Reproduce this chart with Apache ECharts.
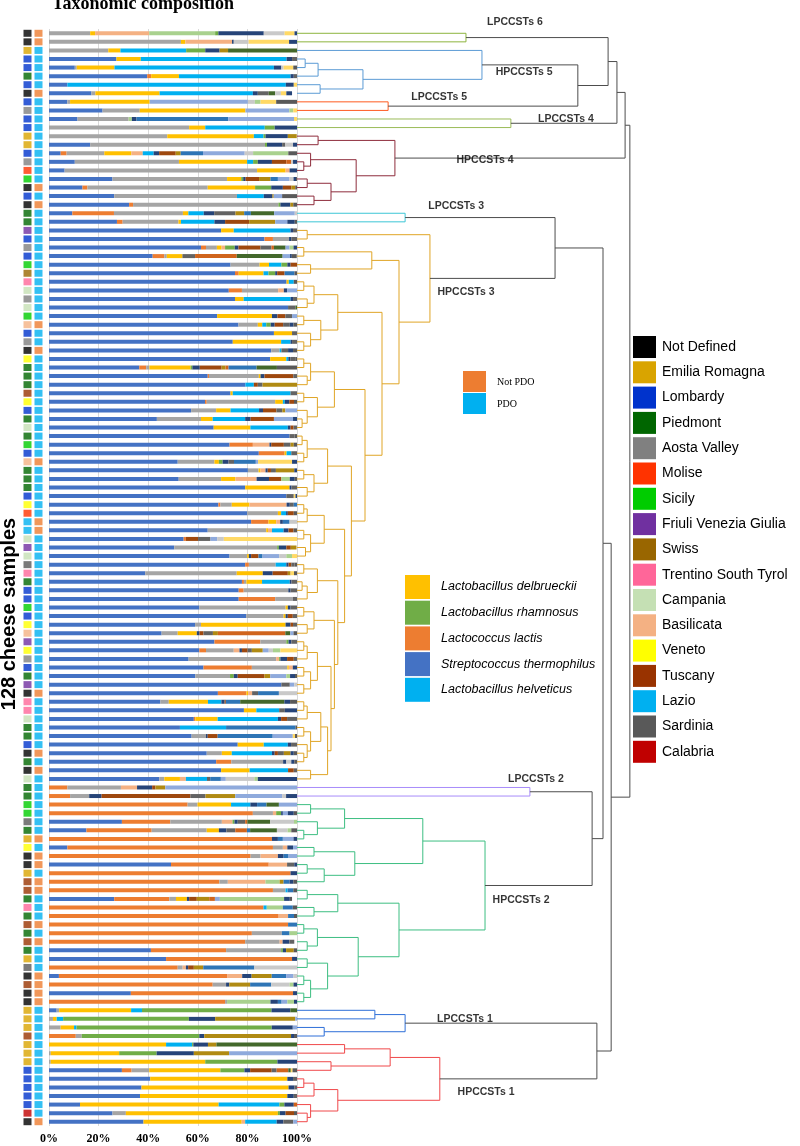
<!DOCTYPE html>
<html><head><meta charset="utf-8">
<script src="https://cdn.jsdelivr.net/npm/echarts/dist/echarts.min.js"></script>
<style>html,body{margin:0;padding:0;background:#fff}#c{width:800px;height:1146px}</style>
</head><body><div id="c"></div>
<script>
// ---------------- DATA ----------------
const xTicks = ['0%','20%','40%','60%','80%','100%'];
const sampleIds = Array.from({length:128},(_, i)=>'S'+(i+1));

// taxa (stack order) and their colours
const taxaNames = ['Streptococcus thermophilus','Lactococcus lactis','Other 1','Lactobacillus delbrueckii','Other 2','Lactobacillus helveticus','Other 3','Lactobacillus rhamnosus','Other 4','Other 5','Other 6','Other 7','Other 8','Other 9','Other 10','Other 11','Other 12','Other 13','Other 14','Other 15','Other 16'];
const taxaColors = ['#4472C4','#ED7D31','#A5A5A5','#FFC000','#F4B183','#00B0F0','#A9D18E','#70AD47','#264478','#9E480E','#636363','#B08A12','#D0641C','#2E75B6','#43682B','#8FAADC','#C9C9C9','#A9D18E','#FFD966','#264478','#595959'];

const thermophilus = [0,0,0,27.2,10.4,39.6,7.4,17.1,7.4,21.6, 11.5,0,0,16.6,4.7,10.4,6.3,25.6,13.5,26.3, 32.3,9.4,27.4,69.4,86.9,61.3,41.8,73.2,75,95.8, 72.5,75,96.4,67.8,76.4,90.7,74.1,89.6,89.2,36.4, 64,79.2,73.2,62.9,57.3,43.5,66.4,97,72.8,84.6, 51.9,80.2,52.3,79.1,95.7,68.3,79.9,81.5,64,54.3, 50.5,72.8,79.1,38.8,77.8,76.5,76.5,60.6,79.5,58.9, 45.4,66.7,60.6,56.3,62.3,59,93.7,68.1,44.9,78.6, 58.4,52.8,57.5,76.1,63.6,67.4,69.4,44.5,0,0, 0,0,29.4,15.1,0,7.4,0,49.2,0,0, 0,26.3,0,0,0,0,0,41.1,47.2,0, 4,0,33,0,3.1,0,0,0,0,0, 0,29.4,40.8,37.3,36.7,12.5,25.6,38.1];
const lactis = [0,0,0,0,0,1.6,0,0,0,0, 0,0,0,0,2.4,0,0,0,2,0, 1.6,16.8,2.3,0,3.4,2,4.7,0,1.5,0, 5.3,0,0,0,0,0,0,0,0,2.8, 0.5,0,0,0.7,0,0,0,0,9.4,10.4, 0,0,0,0,0,0.8,0,7,0,0.9, 0,0,1.5,0,0.8,2,14.7,0,0,0, 0,18.5,2.7,0,19.5,0,0,11.5,0,0, 0.6,0,0,0,0,6.1,0,0,7.4,8.5, 55.9,82.2,19.5,26.3,89.9,82.9,81.3,39.4,97.4,68.7, 90.3,22.2,86.5,92.6,96.4,81.8,79.1,30.3,50.8,51.9, 67.8,66,65.4,71,0,0,0,10.8,0,0, 0,3.9,0,0,0,0,0,0];
const other1 = [16.6,53.2,23.9,0,0.8,0,0,1.6,1.1,15, 20.6,56.5,47.7,70.5,15.2,42,77.6,46.2,48.5,49.5, 58.6,27.8,22.5,0,6.5,4.4,1,11.7,0,0, 14.6,0,0,0,7.8,0,0,3.4,0,1.3, 20.1,0,0,27.6,10.1,17.8,0,0,0,0, 14.8,4.3,17.1,0,0,4.6,12.4,0,23.6,0, 41.5,7.1,10.8,36.9,1,18,7.1,34.8,15.1,2.4, 6.5,10.5,11.2,35.3,14.3,14,0,0,3.4,0, 0,0,5.8,0,6.1,20.9,0,2,21.6,7.7, 4,8.1,20.8,22.2,0,4,4,0,0,3.4, 5.1,2.7,0,0,0,12.1,13.9,22.2,0,2, 0,5.4,0,0.8,1,1.6,4.7,2.4,0,0.7, 0.7,7.1,0,0,0,0,5.4,0];
const delbrueckii = [2,1.8,4.9,9.8,15.2,11.2,0,25.9,32.1,42.6, 0,6.5,34.9,0,10.9,27.5,11.5,5.7,19.1,0, 0,2.2,1,5.1,0,1.9,6.3,3.8,10,0.9, 0,3.5,0,22.1,1.8,7.3,19.5,0,6.5,16.6, 0.7,0,0.9,3.1,5.8,4.7,14.8,0,0,0.8, 1.8,0.8,5.8,17.9,0,7.1,1.3,3.1,0.7,0, 0,0.7,0,10.5,6.3,0,0,0.9,0.8,34.1, 7.7,0,0,0,0.6,0,0,0.7,15.8,5, 9,0,0,10.5,4,0,11.5,6.3,0,0, 13.5,0,0,4.9,0,0,0,0,0,0, 0,4.4,0,0,0,0,0,0,0,0, 0,0,0,0,29,1.5,5.4,0,47.2,27.6, 62.3,28.7,55.3,59.3,59.4,55.9,61.3,39.6];
const other2 = [21.8,18.8,0,0,0,0,0,0,0,0, 0,0,0,0,4.6,0,1.6,0,0,0, 0,0,0,0,0,1.4,0,0,0,0, 2.3,0,0,0,0,0,0,0,0,0, 0,0,0,0,0,0,0,0,6.7,0, 0,2,8.5,0,0,15,0,1.6,1.6,0, 0,0,0,0,0,0,0,0,0,0, 0,0,2.3,1.2,1.6,0,0,1.6,0,0, 0,0,0,0,0,0,0,2.4,6.5,0, 0,1.3,4.3,0,0,1.8,7,7.4,0,15.2, 0,0,0,3.8,0,0,1.2,0,0,1.3, 6.1,0,0,0,0,0,0,0,0,0, 0,0,0,0,0,0,0,1.4];
const helveticus = [0,0,26.5,58.8,64.3,45,88.1,37.6,0,0, 0,24,3.9,0,4.4,2.4,0,0,0,10.8, 0,6.2,13.5,22.9,0,0,0,5,2,2, 0,18.9,0,0,1.6,0,3.8,0.7,0.8,0, 0,3.4,23.3,0.8,11.5,13.1,15.1,0,0,1.9, 0,0,0,0,0,0,2,0,4.7,0, 0,0,4.3,0,11.2,0,0,0,0,0, 0,0,0,0,0,0,0,0,5.4,9.2, 24.3,18.6,0,9.7,16.2,0,15.5,8.5,0,0, 7.8,0,0,0,0,0,0,0,0,0, 0.8,0,1.3,0,0,0,0,0,0,0, 0,0,0,0,4.4,2.6,1,0,10.5,0, 0,0,0,0,0,24.5,0,12.7];
const other3 = [26.6,0,0,0,0,0,0,0,0,0, 1.3,0,0,0,0,0,0,0,0,0, 0,0,0,0,0,0,0,0,0,0, 0,0,0,0,0,0,0,0,0,0, 0,0,0,0,0,0,0,0,0,0, 0,0,0,0,0,0,0,0,0,0, 0,0,0,0,0,0,0,0,0,0, 0,0,0,0,0,0,0,0,0,0, 0,0,0,0,0,0,0,0,0,0, 0,0,0,0,0,0,0,0,0,5.7, 0,0,6.5,0,0,0,0,0,0,0, 0,0,0,17.5,0,0,0,0,0,0, 0,0,0,0,0,0,0,0];
const rhamnosus = [1.3,0,7.7,0,0,0,0,0,0,0, 0,4,0.8,0.8,0,1.9,0,0.8,6.5,0, 0.8,0,0,0,0,3.9,0,2.4,2.7,0, 0,0,0,0,1.8,0,0,0,0,0.7, 0,0,0,0,0,0,0,0,0,0, 1.5,0,0,0,0,0,0,0,0,0, 0.7,0,0,0,0,0,0,0,0,0, 0,0.9,0,0.5,0,1.5,0,0,0,0, 0,0,0,0,0,0,0,0,0,0, 0,2,0.8,0,0,0,0,0,0,0, 0,0,0,0,0,0,0,0.7,0,0, 0,0,0,0,52.2,50.7,78.7,47.4,0.5,15.1, 29.1,9.7,0,0,0,2,0.8,0];
const other4 = [18.3,0.7,5.8,2.2,3,1.3,3.2,2,0,0, 1.9,9,9,6.1,2.2,5.7,3,1,4.7,3.5, 4,4.2,4.3,1,0.9,1.5,0,1.3,0.8,0, 1.3,1,0,2.2,1.6,0,0.6,0,0.8,3, 1.6,0,0,1.8,1.6,2.2,1.1,0,0.7,0, 2.4,0.9,5,0.8,0,1.3,0.7,1.1,2,0, 3,0.9,0.9,4,0.7,0.9,0,1.1,0.9,2, 1.1,1.1,1,2.7,1.7,1.6,0,0,1.3,0, 1.3,0,0.7,1.3,1.1,1.3,0,0,6.1,5, 2.7,0.7,1.3,3,2.4,2.3,2.3,0,2.6,0, 0,0.9,0,0,0,0,2.7,1.3,2,0.9, 3.8,1.3,1.6,3,7.6,10.6,8.5,2,5.9,15, 7.9,2.3,2.3,2.4,2.6,3.8,2.3,2.7];
const other5 = [0,0,0,0,0,0,0,0,0,0, 0,0,0,0,6.7,5.8,0,5.4,3.4,0, 0,0,9.7,0,0,8.9,0,2.6,3,0, 0,0,0,3.2,3.4,0,0,0,0,8.8, 11.6,1.6,0,1.9,5.4,9.4,1.2,0,5.1,0, 0,1.3,5,0,0,0,2.4,0,2,4.9, 1.8,3,1.1,6.1,0,0,0,0,2,1, 1.6,0,2.3,2.7,0,10.8,0,0,0.5,0, 2.4,0,4,0,1.3,0,2.3,0,1.3,35.8, 0,0,0,0,0,0,0,0,0,0, 0,3.1,0,0,0,0,0,0,0,2.3, 0,0,0,0,0,0,0,0,0,0, 0,8.7,0,0,0,0,3.4,0];
const other6 = [0,0,0,2,0,1.3,0,4.4,0,0, 0,0,0,1.3,0,0,0,0,0,0, 0,8.6,0,1.6,2.3,4.4,5.1,0,0,0, 0,1.6,3,2.7,2.7,2,2,2.7,2,0, 1.5,1.9,2.6,0,2.4,0,1.4,2,2.7,2.3, 2.2,2,0,2.2,3,1.6,0,0,0,5, 0,0,1.3,0,2.2,2.6,1.7,2.6,1.7,1.6, 3.8,2.3,1.7,1.3,0,0,3.4,2.4,0,2.3, 4,0,0,2.4,2.4,0,1.3,1.3,0,6.1, 0,0,3,3.6,0,0,0,2.9,0,0, 0,0,0,0,0,0,2,0,0,0, 0,0,0,0,0,0,0,0,0,0, 0,2,1.6,1,1.3,0,0,4];
const other7 = [0,0,3.4,0,0,0,0,0,0,0, 0,0,3.6,0,2,0,0,4.6,1.6,0.5, 1.2,3.5,10.5,0,0,0,0,0,0,0, 0,0,0,0,0,0,0,0,0,1.6, 0,13.9,0,0,1.2,0,0,0,1.3,0, 0,7.4,0,0,0,0,0,0,0,0, 2.3,0,0,1.1,0,0,0,0,0,0, 2,0,4.4,0,0,2.3,0,0,0,0, 0,0,0,0,2.7,0,0,0,4,12, 0,0,0,0,0,0,0,0,0,1.6, 0,5,0,0,0,0,0,3.1,0,3.8, 8.1,8.4,0,0,0,32.3,0,35,3.4,14.2, 0,0,0,0,0,0,0,0];
const other8 = [0,0,0,0,0,0,0,0,0,0, 0,0,0,0,0,2,0,0,0,0, 0,0,0,0,0,1,16.8,0,0,0, 0,0,0,0,0,0,0,0,0,1.2, 0,0,0,0,0,0,0,0,0,0, 0,0,0,0,0,0,0,0,0,0, 0,0,0,0,0,0,0,0,0,0, 27.2,0,0,0,0,0,0,0,0,0, 0,0,0,0,0,0,0,0,0,0, 0,0,0.9,4.7,0,0,0,0,0,0, 0,2.3,0,0,0,0,0,0,0,0, 0,0,0,0,0,0,0,0,0,0, 0,4.7,0,0,0,1.3,0,0];
const other9 = [0,0,0,0,0,0,0,0,0,0, 37,0,0,0,9,0,0,3,0,0, 0,2.7,0,0,0,0,0,0,4,0, 0,0,0,0,0,0,0,0,0,11.3, 0,0,0,0,0,0,0,0,0,0, 8.8,0,0,0,0,1.3,0,2.7,0,0, 0,1.6,0,0,0,0,0,0,0,0, 0,0,0,0,0,0,0,8.4,5.8,0, 0,28,22.2,0,0,0,0,4.3,0,0, 3.8,0,0,1.3,2,0,2,0,0,2.4, 2.3,0,4,2.4,3.6,3.1,0,0,0,20.6, 5.8,8.5,0,1.5,0,0,0,0,0,0, 0,0,0,0,0,0,0,0];
const other10 = [0,0,27.9,0,0,0,0,2.6,0,0, 0,0,0,0,0,0,0,0,0,0, 0,9.4,0,0,0,4.7,18.5,0,0,0, 0,0,0.6,0,0,0,0,0,0,8.2, 0,0,0,0,0,0,0,0,0,0, 0,0,0,0,0,0,0,0,0,0, 0,0,0,0,0,0,0,0,0,0, 2,0,0,0,0,0,0,0,17.8,0, 0,0,0,0,0,0,0,0,0,0, 5,0,9.2,10.8,0,0,0,0,0,0, 0,0,0,0,0,0,0,0,0,0, 0,0,0,0,2.7,0,0,0,32.5,0, 0,1,0,0,0,0,0,0];
const other11 = [0,0,0,0,0,0,0,0,39.6,17.7, 26.5,0,0,0,16.8,0,0,4.7,0,3.4, 0,8.3,4.9,0,0,1.6,3,0,0,0, 4,0,0,2,0,0,0,0,0,0, 0,0,0,0,4.7,7.7,0,0,0,0, 0.9,0,0,0,0,0,0,0,0,2.7, 0,6.7,0,0,0,0,0,0,0,0, 1.3,0,2.4,0,0,6.5,1.8,0,0,0, 0,0,8.1,0,0,0,0,2,53.1,18.9, 7.3,2,0,0,4.3,1.6,3.4,0,0,0, 0,2,0,0,0,0,0,0,0,0, 3,0,0,2.3,0,0.7,1.7,0,0,27.5, 0,0,0,0,0,0,0,1.5];
const other12 = [8.4,6,0,0,0.9,0,0,2.3,2.8,0, 0,0,0,3.1,3.4,0.7,0,1.6,0,0, 0,0.9,0,0,0,0,0,0,0,0, 0,0,0,0,0,0,0,0,0,0, 0,0,0,0,0,0,0,0,0,0, 0,0,0,0,0,0,0,3,0,2.7, 0,2.9,0,0,0,0,0,0,0,0, 0,0,1.7,0,0,0,1.1,7.3,0,0, 0,0,0,0,0,2,0,11.5,0,1.6, 0,0,9.6,4.3,0,0,0,0,0,0, 0,0,0,0,0,0,0,0,0,17.2, 1.4,7.4,0,0,0,0,0,0,0,0, 0,0,0,0,0,0,0,0];
const other13 = [0,0,0,0,0,0,0,0,2.3,1.6, 0,0,0,0,14.2,0,0,0,0,0, 0,0,0,0,0,1.6,0,0,0,0, 0,0,0,0,0,0,0,0,0,0, 0,0,0,0,0,0,0,0,0,0, 0,0,3.4,0,0,0,0,0,0,0, 0,2.3,0,0,0,0,0,0,0,0, 0,0,3,0,0,1.5,0,0,0,0, 0,0,0,0,0,0,0,1.4,0,0, 0,0,1.2,1.5,0,0,0,0,0,0, 0,25.9,0,0,0,3,0,0,0,0, 0,1.6,0,2.7,0,0,0,0,0,0, 0,0,0,0,0,0,0,0];
const other14 = [4,16.3,0,0,3.9,0,1.3,2.2,6.3,1.5, 1.2,0,0,0,0,0,0,0,0,0, 0,0,0,0,0,0,0,0,0,0, 0,0,0,0,0,0,0,0,0,0, 0,0,0,0,0,0,0,0,0,0, 13.7,0,0,0,0.7,0,0,0,0,29.5, 0,2,0,1.4,0,0,0,0,0,0, 0,0,6.7,0,0,0,0,0,0,0, 0,0,0.9,0,0,0,0,0,0,0, 0,0,0,0,0,0,0,0,0,0, 0,0,0,0,0,0,0,0,0,0, 0,0,0,0,0,0,0,0,0,0, 0,0.7,0,0,0,0,0,0];
const other15 = [1,3.2,0,0,0,0,0,2.3,0,0, 0,0,0,1.6,0,1.6,0,1,0,0, 0,0,3,0,0,1.4,0.7,0,0,0, 0,0,0,0,1.5,0,0,2,0,0, 0,0,0,0,0,1.6,0,0,0,0, 2,1.1,2,0,0.6,0,0,0,0,0, 0,0,0,0,0,0,0,0,0,0, 0,0,0,0,0,2,0,0,2.3,4.9, 0,0,0,0,1.3,1.2,0,15.8,0,4.4, 0,2.4,0,0,1.4,0,0,1.1,0,1.5, 0,2.3,0,0,0,0,0,0,0,0, 0,1.4,0,1.2,0,0,0,1.2,0,0, 0,0,0,0,0,0,0,0];
const other16 = [0,0,0,0,1.5,0,0,0,8.4,0, 0,0,0,0,3.5,0,0,0.4,0.7,6, 1.5,0,0.9,0,0,0,2,0,1,1.3, 0,0,0,0,1.4,0,0,1.6,0.7,8.1, 0,0,0,1.2,0,0,0,1,1.3,0, 0,0,0.9,0,0,0,1.3,0,1.4,0, 0,0,1,1.2,0,0,0,0,0,0, 1.4,0,0,0,0,0.8,0,0,2.8,0, 0,0.6,0.8,0,1.3,1.1,0,0,0,0, 0,1.3,0,2.3,0,0,0,0,0,1.5, 1.5,0.9,1.7,1.2,0,0,0,1.3,0,0, 0,0,0,0,0,0,0,1.2,0,0, 0,1.8,0,0,0,0,1.2,0];
const taxaValues = [thermophilus,lactis,other1,delbrueckii,other2,helveticus,other3,rhamnosus,other4,other5,other6,other7,other8,other9,other10,other11,other12,other13,other14,other15,other16];

// sample origin (region code) and PDO status (1 = PDO)
const sampleRegion = ['ND','ND','ER','LO','LO','PI','LO','ND','LO','AO', 'LO','LO','ER','ER','LO','AO','MO','SI','ND','LO', 'ND','PI','PI','FV','LO','AO','LO','SI','SW','TR', 'CA','AO','CA','SI','BA','LO','AO','ND','VE','PI', 'PI','PI','TU','VE','LO','PI','CA','PI','SI','LO', 'BA','PI','PI','PI','LO','VE','MO','LA','LA','CA', 'FV','CA','SA','TR','PI','LO','LO','SI','LO','VE', 'BA','FV','VE','AO','LO','PI','FV','ND','TR','TR', 'CA','PI','PI','LO','ND','PI','ND','CA','PI','PI', 'SI','SI','SA','PI','ER','VE','ND','ND','ER','TU', 'TU','PI','TR','PI','TU','PI','TU','PI','ER','SA', 'ND','TU','ND','ND','ER','ER','ER','TU','ER','ER', 'ER','LO','LO','LO','LO','LO','CL','ND'];
const samplePDO = [0,0,1,1,1,1,1,0,1,1, 1,1,1,1,1,1,1,1,0,1, 0,1,1,1,1,1,1,1,1,1, 1,1,1,1,0,1,1,0,1,1, 1,1,1,1,1,1,1,1,1,1, 0,1,1,1,1,1,1,0,0,1, 1,1,1,1,1,1,1,1,1,1, 1,1,1,1,1,1,1,0,1,1, 1,1,1,1,0,1,0,1,1,1, 1,1,1,1,0,1,0,0,1,0, 0,1,1,1,0,1,0,1,1,1, 0,0,0,0,1,1,1,1,1,1, 1,1,1,1,1,1,1,0];
const regionCodes = ['ND','ER','LO','PI','AO','MO','SI','FV','SW','TR','CA','BA','VE','TU','LA','SA','CL'];
const regionNames = ['Not Defined','Emilia Romagna','Lombardy','Piedmont','Aosta Valley','Molise','Sicily','Friuli Venezia Giulia','Swiss','Trentino South Tyrol','Campania','Basilicata','Veneto','Tuscany','Lazio','Sardinia','Calabria'];
const regionColors = ['#000000','#D9A400','#0033CC','#006600','#808080','#FF3300','#00CC00','#7030A0','#996600','#FF6699','#C5E0B4','#F4B183','#FFFF00','#993300','#00B0F0','#595959','#C00000'];
const pdoNames = ['Not PDO','PDO'];
const pdoColors = ['#ED7D31','#00B0F0'];
const speciesLegend = ['Lactobacillus delbrueckii','Lactobacillus rhamnosus','Lactococcus lactis','Streptococcus thermophilus','Lactobacillus helveticus'];
const speciesLegendColors = ['#FFC000','#70AD47','#ED7D31','#4472C4','#00B0F0'];

// dendrogram: [height, childA, childB]; numbers = sample index
const tLPCCSTs6 = [49.7, 0, 1];
const tHPCCSTs5 = [54.4, 2, [19.4, [6.2, [2.4, 3, 4], 5], [6.8, 6, 7]]];
const tLPCCSTs5 = [26.8, 8, 9];
const tLPCCSTs4 = [62.9, 10, 11];
const tHPCCSTs4 = [28.8, [6.2, 12, 13], [17.4, [4, 14, [2, 15, 16]], [10, [3, 17, 18], [5, 19, 20]]]];
const tLPCCSTs3 = [31.8, 21, 22];
const h3b = [12, [5,[2,29,30],[3,31,32]], [7,[2,33,34],[4,35,[2,36,37]]]];
const h3c = [11, [4,[2,38,39],[3,40,41]], [6,[2,42,43],[3,44,[1.5,45,46]]]];
const h3d = [9, [3,[1.5,47,48],[2,49,50]], [5,[2,51,52],[3,53,54]]];
const h3e = [8, [3,[2,55,56],57], [4,[2,58,59],[2.5,60,61]]];
const h3f = [6, [2,62,63], [3,[1.5,64,65],66]];
const h3g = [5, [2,67,68], [3,69,70]];
const h3h = [6, [3,[2,71,72],73], [4,[2,74,75],[2,76,77]]];
const h3i = [7, [3,[2,78,79],80], [4,[2,81,82],[3,83,[2,84,85]]]];
const h3j = [4, 86, 87];
const h3rest = [25, h3b, [20, h3c, [16, h3d, [14, h3e, [12, h3f, [11, h3g, [10, h3h, [9, h3i, h3j]]]]]]]];
const tHPCCSTs3 = [39.1, [3, 23, 24], [30, [22, [2, 25, 26], [4, 27, 28]], h3rest]];
const tLPCCSTs2 = [68.5, 88, 89];
const h2a = [37, [14, [4,90,91], [6,92,[2,93,94]]], [17, [5,95,96], [8,[3,97,98],99]]];
const h2b = [30, [12, [3,100,101], [5,102,103]], [18, [6,[2,104,105],[3,106,107]], [9,[3,108,109],[4,[2,110,111],[2,112,113]]]]];
const tHPCCSTs2 = [55.3, h2a, h2b];
const tLPCCSTs1 = [31.8, [22.9, 114, 115], [8, 116, 117]];
const tHPCCSTs1 = [42, [27.4, [14, 118, 119], [10, 120, 121]], [12, [5, [2, 122, 123], 124], [4, 125, [3, 126, 127]]]];
const clusterNames = ['LPCCSTs 6','HPCCSTs 5','LPCCSTs 5','LPCCSTs 4','HPCCSTs 4','LPCCSTs 3','HPCCSTs 3','LPCCSTs 2','HPCCSTs 2','LPCCSTs 1','HPCCSTs 1'];
const clusterTrees = [tLPCCSTs6,tHPCCSTs5,tLPCCSTs5,tLPCCSTs4,tHPCCSTs4,tLPCCSTs3,tHPCCSTs3,tLPCCSTs2,tHPCCSTs2,tLPCCSTs1,tHPCCSTs1];
const clusterColors = ['#8DB43E','#5B9BD5','#FF5A1F','#9BBB59','#8E2C3C','#3CC6D6','#E0A526','#A78BFA','#3DBE82','#2E6FD8','#F0484A'];
// label anchor [height, sample position]
const clusterLabelPos = [[64.1,-1.3],[66.8,4.5],[41.8,7.4],[79.1,10.0],[55.3,14.8],[46.8,20.2],[49.7,30.2],[70.3,87.0],[65.9,101.1],[49.4,115.0],[55.6,123.5]];
const topUpper = [96.5, [94.1, [91.5, 'LPCCSTs 6', [82.6, 'HPCCSTs 5', 'LPCCSTs 5']], 'LPCCSTs 4'], 'HPCCSTs 4'];
const topLower = [92.4, [90, [75.9, 'LPCCSTs 3', 'HPCCSTs 3'], [86.8, 'LPCCSTs 2', 'HPCCSTs 2']], [88.2, 'LPCCSTs 1', 'HPCCSTs 1']];
const topTree = [97.9, topUpper, topLower];
const topColor = '#4D4D4D';

// ---------------- BUILD ----------------
const segs = [];
function lay(node, color) {
  if (typeof node === 'number') return {y: node, h: 0};
  if (typeof node === 'string') { const k = clusterNames.indexOf(node); return lay(clusterTrees[k], clusterColors[k]); }
  const a = lay(node[1], color), b = lay(node[2], color), H = node[0];
  segs.push({coords: [[a.h, a.y],[H, a.y],[H, b.y],[b.h, b.y]], lineStyle: {color: color}});
  return {y: (a.y + b.y) / 2, h: H};
}
lay(topTree, topColor);

const TOP = 29, HGT = 1097;
const chart = echarts.init(document.getElementById('c'), null, {renderer: 'canvas', width: 800, height: 1146});
const barSeries = taxaValues.map((vals, i) => ({
  type: 'bar', name: taxaNames[i], stack: 'tax', data: vals, barWidth: 4,
  xAxisIndex: 0, yAxisIndex: 0, itemStyle: {color: taxaColors[i]}, silent: true
}));
const squareData = [];
sampleIds.forEach((id, i) => {
  squareData.push({value: [0, i], itemStyle: {color: regionColors[regionCodes.indexOf(sampleRegion[i])]}});
  squareData.push({value: [1, i], itemStyle: {color: pdoColors[samplePDO[i]]}});
});

const graphics = [];
graphics.push({type: 'text', x: 143, y: 4, style: {text: 'Taxonomic composition', font: 'bold 18px "Liberation Serif"', fill: '#000', align: 'center', verticalAlign: 'middle'}});
graphics.push({type: 'text', x: 9, y: 614, rotation: Math.PI / 2, style: {text: '128 cheese samples', font: 'bold 20px "Liberation Sans"', fill: '#000', align: 'center', verticalAlign: 'middle'}});
regionNames.forEach((n, i) => {
  const y = 336 + 25.3 * i;
  graphics.push({type: 'rect', shape: {x: 633, y: y, width: 23, height: 22}, style: {fill: regionColors[i]}});
  graphics.push({type: 'text', x: 662, y: y + 11, style: {text: n, font: '14px "Liberation Sans"', fill: '#000', verticalAlign: 'middle'}});
});
pdoNames.forEach((n, i) => {
  const y = 371 + 22 * i;
  graphics.push({type: 'rect', shape: {x: 463, y: y, width: 23, height: 21}, style: {fill: pdoColors[i]}});
  graphics.push({type: 'text', x: 497, y: y + 11, style: {text: n, font: '10px "Liberation Serif"', fill: '#000', verticalAlign: 'middle'}});
});
speciesLegend.forEach((n, i) => {
  const y = 575 + 25.7 * i;
  graphics.push({type: 'rect', shape: {x: 405, y: y, width: 25, height: 24}, style: {fill: speciesLegendColors[i]}});
  graphics.push({type: 'text', x: 441, y: y + 12, style: {text: n, font: 'italic 12.5px "Liberation Sans"', fill: '#000', verticalAlign: 'middle'}});
});

chart.setOption({
  animation: false,
  backgroundColor: '#fff',
  grid: [
    {left: 49, top: TOP, width: 248, height: HGT},
    {left: 22, top: TOP, width: 22, height: HGT},
    {left: 297, top: TOP, width: 340, height: HGT}
  ],
  xAxis: [
    {type: 'value', gridIndex: 0, min: 0, max: 100, interval: 20,
     axisLine: {show: false}, axisTick: {show: false},
     axisLabel: {formatter: v => xTicks[Math.round(v / 20)], margin: 7, fontFamily: 'Liberation Serif', fontWeight: 'bold', fontSize: 12, color: '#000'},
     splitLine: {show: true, lineStyle: {color: '#D9D9D9', width: 1}}},
    {type: 'category', gridIndex: 1, data: ['region','pdo'], show: false},
    {type: 'value', gridIndex: 2, min: 0, max: 100, show: false}
  ],
  yAxis: [
    {type: 'category', gridIndex: 0, data: sampleIds, inverse: true, show: false},
    {type: 'category', gridIndex: 1, data: sampleIds, inverse: true, show: false},
    {type: 'value', gridIndex: 2, min: -0.5, max: 127.5, inverse: true, show: false}
  ],
  series: barSeries.concat([
    {type: 'scatter', xAxisIndex: 1, yAxisIndex: 1, symbol: 'rect', symbolSize: [8, 7], data: squareData, silent: true},
    {type: 'lines', coordinateSystem: 'cartesian2d', xAxisIndex: 2, yAxisIndex: 2, polyline: true, silent: true,
     lineStyle: {width: 1, opacity: 1}, data: segs},
    {type: 'scatter', xAxisIndex: 2, yAxisIndex: 2, symbolSize: 0, clip: false, silent: true,
     data: clusterNames.map((n, i) => ({value: clusterLabelPos[i], name: n})),
     label: {show: true, position: 'inside', formatter: p => p.name, fontFamily: 'Liberation Sans', fontWeight: 'bold', fontSize: 10.5, color: '#000'}}
  ]),
  graphic: graphics
});
</script></body></html>
